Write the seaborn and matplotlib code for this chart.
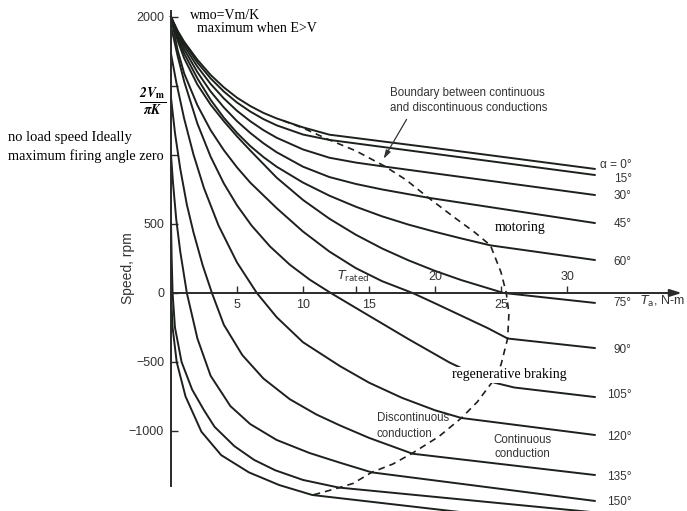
import matplotlib
matplotlib.use("Agg")
import matplotlib.pyplot as plt
import pandas as pd
import seaborn as sns

# ---------------- data ----------------
alphas = [0, 15, 30, 45, 60, 75, 90, 105, 120, 135, 150, 165, 180]
alpha_labels = ["α = 0°", "15°", "30°", "45°", "60°", "75°", "90°",
                "105°", "120°", "135°", "150°"]

torque_a0 = [0, 0.5, 1, 2, 3, 4, 5, 6, 7, 8, 10, 12, 20, 32.1]
speed_a0 = [2000, 1900, 1820, 1690, 1580, 1490, 1415, 1355, 1305, 1265, 1200, 1147, 1050, 899]

torque_a15 = [0, 0.5, 1, 2, 3, 4, 5, 6, 7, 8, 10, 12, 32.1]
speed_a15 = [2000, 1895, 1810, 1670, 1555, 1460, 1380, 1315, 1260, 1215, 1148, 1109, 855]

torque_a30 = [0, 0.5, 1, 2, 3, 4, 5, 6, 7, 8, 10, 12, 14, 16, 32.1]
speed_a30 = [2000, 1885, 1790, 1640, 1515, 1410, 1320, 1245, 1180, 1125, 1040, 980, 945, 918, 710]

torque_a45 = [0, 0.5, 1, 2, 3, 4, 5, 6, 7, 8, 10, 12, 14, 16, 19.5, 32.1]
speed_a45 = [2000, 1870, 1765, 1600, 1460, 1345, 1245, 1160, 1085, 1020, 915, 840, 790, 750, 690, 507]

torque_a60 = [0, 0.5, 1, 2, 3, 4, 5, 6, 7, 8, 10, 12, 14, 16, 18, 20, 22, 24.2, 32.1]
speed_a60 = [2000, 1850, 1735, 1555, 1400, 1270, 1160, 1065, 985, 915, 800, 705, 625, 555, 495, 443, 395, 345, 239]

torque_a75 = [0, 0.5, 1, 2, 3, 4, 5, 6, 8, 10, 12, 14, 16, 18, 20, 22, 25.2, 32.1]
speed_a75 = [2000, 1830, 1700, 1510, 1365, 1245, 1135, 1033, 836, 674, 538, 422, 322, 236, 160, 93, 0, -72]

torque_a90 = [0, 0.5, 1, 2, 3, 4, 5, 6, 8, 10, 12, 14, 16, 18.3, 20, 22, 24, 25.5, 32.1]
speed_a90 = [2000, 1760, 1590, 1360, 1180, 1035, 910, 800, 615, 445, 300, 180, 85, 0, -75, -165, -255, -330, -399]

torque_a105 = [0, 0.5, 1, 2, 3, 4, 5, 6.1, 7.5, 9, 10.5, 12.1, 15, 18, 21.1, 23, 24.5, 26, 32.1]
speed_a105 = [1932, 1718, 1532, 1227, 988, 794, 635, 489, 337, 205, 97, 0, -165, -335, -504, -590, -650, -685, -754]

torque_a120 = [0, 0.4, 1, 1.7, 2.5, 3.6, 5, 6.5, 8, 10, 12.8, 15, 17.5, 20, 22, 32.1]
speed_a120 = [1732, 1527, 1262, 1004, 759, 489, 221, 0, -175, -357, -530, -650, -760, -850, -906, -1029]

torque_a135 = [0, 0.3, 0.7, 1.2, 1.7, 2.4, 3.1, 4, 5.4, 7, 9, 11, 12.8, 15, 18.3, 32.1]
speed_a135 = [1414, 1160, 900, 640, 440, 200, 0, -230, -450, -620, -770, -880, -960, -1050, -1165, -1319]

torque_a150 = [0, 0.15, 0.4, 0.7, 1.2, 2, 3, 4.5, 6, 8, 10.5, 12.8, 15.2, 32.1]
speed_a150 = [1000, 800, 530, 300, 0, -330, -600, -820, -950, -1065, -1160, -1230, -1300, -1507]

torque_a165 = [0, 0.05, 0.12, 0.3, 0.8, 1.6, 2.5, 3.3, 4.8, 6.3, 7.9, 10, 12.7, 32.1]
speed_a165 = [518, 250, 0, -250, -500, -700, -850, -970, -1110, -1210, -1285, -1355, -1410, -1590]

torque_a180 = [0, 0.12, 0.43, 1.1, 2.3, 3.8, 5.9, 8.2, 10.7, 32.1]
speed_a180 = [0, -250, -500, -750, -1005, -1175, -1300, -1392, -1464, -1700]

# boundary between continuous and discontinuous conduction
boundary_torque = [8.5, 10, 12, 14, 16.2, 17.8, 19.5, 21.5, 23, 24.2, 25.0, 25.4, 25.6,
                   25.5, 25.0, 24.3, 23.2, 22.0, 20.3, 18.3, 16.8, 15.2, 13.8, 12.7, 11.1, 10.7]
boundary_speed = [1248, 1195, 1109, 1030, 918, 820, 690, 545, 440, 345, 150, 0, -150,
                  -330, -520, -650, -790, -906, -1040, -1160, -1240, -1300, -1380, -1412, -1455, -1464]

x_ticks = [5, 10, 14, 15, 20, 25, 30]
x_labels_below = [5, 10, 15, 25]
x_labels_above = [20, 30]
y_ticks = [-1000, -500, 0, 500, 1000, 1500, 2000]
y_tick_labels = ["−1000", "−500", "0", "500", "", "", "2000"]

torques = [torque_a0, torque_a15, torque_a30, torque_a45, torque_a60, torque_a75, torque_a90,
           torque_a105, torque_a120, torque_a135, torque_a150, torque_a165, torque_a180]
speeds = [speed_a0, speed_a15, speed_a30, speed_a45, speed_a60, speed_a75, speed_a90,
          speed_a105, speed_a120, speed_a135, speed_a150, speed_a165, speed_a180]

rows = []
for a, ts, ss in zip(alphas, torques, speeds):
    for t, s in zip(ts, ss):
        rows.append({"alpha": a, "torque": t, "speed": s})
df = pd.DataFrame(rows)

# ---------------- drawing ----------------
plt.rcParams["font.family"] = ["Liberation Sans", "DejaVu Sans"]
LINE = "#1c211c"
AXC = "#2a2a2a"
TXT = "#333333"
SERIF = ["Liberation Serif", "DejaVu Serif"]

fig = plt.figure(figsize=(6.87, 5.11), dpi=100)
ax = fig.add_axes([0, 0, 1, 1])

sns.lineplot(data=df, x="torque", y="speed", units="alpha", estimator=None, sort=False,
             color=LINE, lw=1.4, ax=ax, legend=False)
sns.lineplot(x=boundary_torque, y=boundary_speed, sort=False, estimator=None,
             color=LINE, lw=1.2, linestyle=(0, (4, 3)), ax=ax)

ax.set_xlim(-12.955, 39.09)
ax.set_ylim(-1580, 2123)
ax.set_xlabel("")
ax.set_ylabel("")

for side in ["top", "right"]:
    ax.spines[side].set_visible(False)
ax.spines["left"].set_position(("data", 0))
ax.spines["bottom"].set_position(("data", 0))
ax.spines["left"].set_bounds(-1400, 2040)
ax.spines["bottom"].set_bounds(0, 38.0)
for side in ["left", "bottom"]:
    ax.spines[side].set_color(AXC)
    ax.spines[side].set_linewidth(1.4)
ax.annotate("", xy=(38.9, 0), xytext=(37.4, 0),
            arrowprops=dict(arrowstyle="-|>,head_length=0.7,head_width=0.22",
                            color=AXC, lw=1.4))

ax.set_xticks(x_ticks)
ax.tick_params(axis="x", direction="in", length=5, width=1, color=AXC,
               labelbottom=False)
ax.set_yticks(y_ticks)
ax.set_yticklabels(y_tick_labels)
ax.tick_params(axis="y", direction="in", length=5, width=1, color=AXC,
               labelsize=9, labelcolor=TXT, pad=5)

for t in x_labels_below:
    ax.text(t, -87, str(t), ha="center", va="center", fontsize=9, color=TXT)
for t in x_labels_above:
    ax.text(t, 116, str(t), ha="center", va="center", fontsize=9, color=TXT)
ax.text(12.55, 118, r"$T_{\rm rated}$", ha="left", va="center", fontsize=9, color=TXT)

ax.text(35.5, -65, r"$T_{\rm a}$, N-m", ha="left", va="center", fontsize=9, color=TXT)
ax.text(-3.26, 181, "Speed, rpm", rotation=90, ha="center", va="center",
        fontsize=10, color=TXT)

# alpha labels at the ends of curves
label_offsets = [30, -28, -8, -8, -12, 0, -14, 12, -14, -14, -8]
for lab, ss, off in zip(alpha_labels, speeds, label_offsets):
    ax.text(34.9, ss[-1] + off, lab, ha="right", va="center", fontsize=8.5, color=TXT)

wbox = dict(facecolor="white", edgecolor="none", pad=1.0)
ax.text(1.44, 2014, "wmo=Vm/K", family=SERIF, fontsize=10, ha="left", va="center",
        bbox=wbox, zorder=6)
ax.text(1.97, 1913, "maximum when E>V", family=SERIF, fontsize=10, ha="left",
        va="center", bbox=wbox, zorder=6)
ax.text(-1.36, 1391, r"$\frac{\mathbfit{2V}_{\mathbf{m}}}{\mathbfit{\pi K}}$",
        math_fontfamily="stix", fontsize=14, ha="center", va="center", color="black")
ax.text(-12.35, 1130, "no load speed Ideally", family=SERIF, fontsize=10.5,
        ha="left", va="center")
ax.text(-12.35, 993, "maximum firing angle zero", family=SERIF, fontsize=10.3,
        ha="left", va="center")
ax.text(24.5, 471, "motoring", family=SERIF, fontsize=10, ha="left", va="center",
        bbox=wbox, zorder=6)
ax.text(21.3, -594, "regenerative braking", family=SERIF, fontsize=10, ha="left",
        va="center", bbox=wbox, zorder=6)

ax.text(16.6, 1449, "Boundary between continuous", fontsize=8.3, color=TXT,
        ha="left", va="center")
ax.text(16.6, 1341, "and discontinuous conductions", fontsize=8.3, color=TXT,
        ha="left", va="center")
ax.annotate("", xy=(16.0, 955), xytext=(17.95, 1275),
            arrowprops=dict(arrowstyle="-|>,head_length=0.5,head_width=0.15",
                            color=TXT, lw=0.9))

ax.text(15.6, -906, "Discontinuous", fontsize=8.3, color=TXT, ha="left", va="center")
ax.text(15.6, -1022, "conduction", fontsize=8.3, color=TXT, ha="left", va="center")
ax.text(24.4, -1065, "Continuous", fontsize=8.3, color=TXT, ha="left", va="center")
ax.text(24.5, -1167, "conduction", fontsize=8.3, color=TXT, ha="left", va="center")

fig.savefig("out.png", dpi=100)
